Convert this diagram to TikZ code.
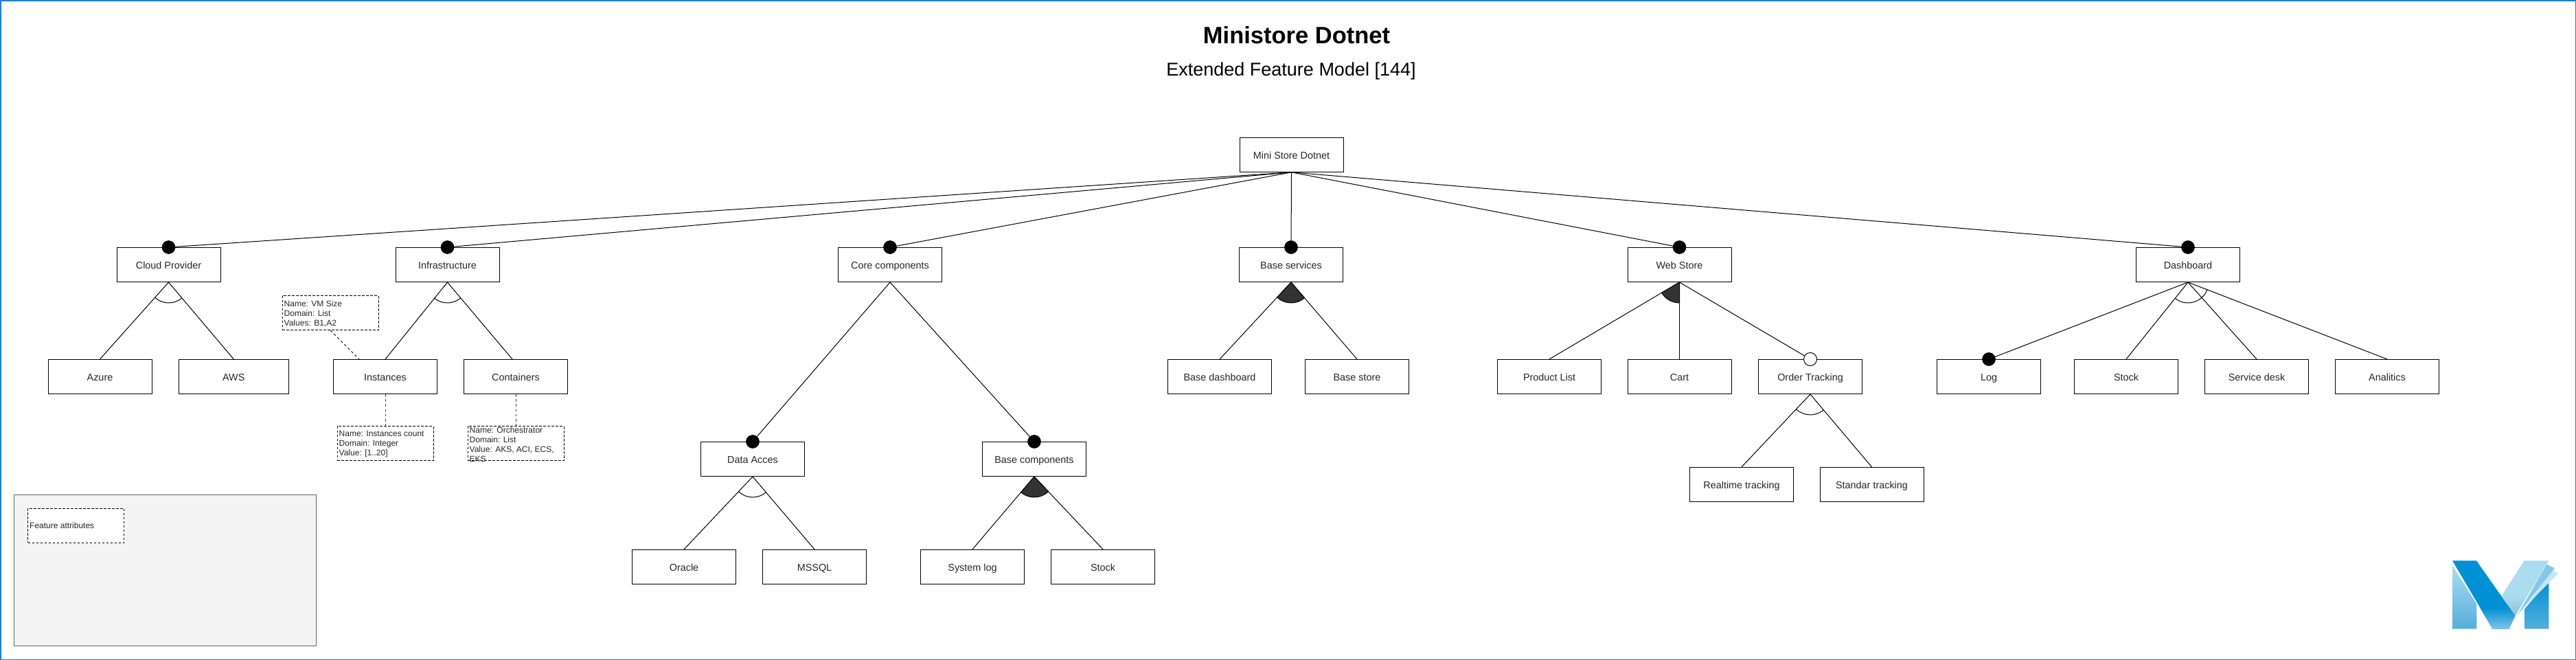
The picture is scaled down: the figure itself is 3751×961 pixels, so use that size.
\documentclass[tikz,border=0pt]{standalone}
\usepackage{fontspec}
\setmainfont{Liberation Sans}
\usetikzlibrary{calc}
\definecolor{framecol}{HTML}{1B7FD8}
\definecolor{txt}{HTML}{262626}
\definecolor{groupfill}{HTML}{333333}
\definecolor{legendfill}{HTML}{F4F4F4}
\definecolor{legendline}{HTML}{666666}
\tikzset{
  x=1pt,y=-1pt,
  feat/.style={draw=black,fill=white,line width=1pt,minimum width=151pt,minimum height=50pt,inner sep=0pt,text=txt,text height=12pt,text depth=0pt,font=\fontsize{14.4}{17}\selectfont},
  attrbox/.style={draw=black,fill=white,dash pattern=on 3.6pt off 2.4pt,line width=1pt,minimum width=140pt,minimum height=50pt,inner sep=0pt},
  attrtext/.style={anchor=west,align=left,inner xsep=3pt,inner ysep=0pt,text=txt,font=\fontsize{12}{14}\selectfont},
  link/.style={draw=black,line width=1pt},
  attrlink/.style={draw=black!75,line width=1pt,dash pattern=on 3.6pt off 3.6pt},
  mand/.style={circle,fill=black,draw=black,line width=0.6pt,minimum size=19pt,inner sep=0pt},
  opt/.style={circle,fill=white,draw=black,line width=1pt,minimum size=19pt,inner sep=0pt},
  grouparc/.style={draw=black,line width=1pt},
  groupsector/.style={draw=black,fill=groupfill,line width=1pt},
}
% white arc across a group: parent, first child point, last child point
\newcommand{\orArc}[3]{\draw[grouparc] let \p0=(#1), \p1=(#2), \p2=(#3),
  \n1={atan2(\y1-\y0,\x1-\x0)}, \n2={atan2(\y2-\y0,\x2-\x0)} in
  ($(\p0)+(\n1:30pt)$) arc[start angle=\n1,end angle=\n2,radius=30pt];}
\newcommand{\xorArc}[3]{\draw[groupsector] let \p0=(#1), \p1=(#2), \p2=(#3),
  \n1={atan2(\y1-\y0,\x1-\x0)}, \n2={atan2(\y2-\y0,\x2-\x0)} in
  (\p0) -- ($(\p0)+(\n1:30pt)$) arc[start angle=\n1,end angle=\n2,radius=30pt] -- cycle;}
\begin{document}
\begin{tikzpicture}
\useasboundingbox (0,0) rectangle (3751,961);
\fill[white] (0,0) rectangle (3751,961);
\draw[framecol,line width=3pt] (0,0) rectangle (3751,961);

% titles
\node[anchor=base,inner sep=0pt,font=\fontsize{34.5}{40}\selectfont\bfseries] (title) at (1888,63) {Ministore Dotnet};
\node[anchor=base,inner sep=0pt,font=\fontsize{27}{32}\selectfont] (subtitle) at (1880,110) {Extended Feature Model [144]};

% legend
\node[draw=legendline,fill=legendfill,line width=1pt,minimum width=440pt,minimum height=220pt,inner sep=0pt] (legend) at (240.5,830.3) {};
\node[attrbox] (legattr) at (110.5,765.3) {};
\node[attrtext] (legattrt) at (legattr.west) {Feature attributes};

% features
\node[feat] (root) at (1880.5,225.3) {Mini Store Dotnet};
\node[feat] (cloud) at (245.5,385.5) {Cloud Provider};
\node[feat] (infra) at (651.5,385.5) {Infrastructure};
\node[feat] (core) at (1296,385.5) {Core components};
\node[feat] (bserv) at (1880,385.5) {Base services};
\node[feat] (web) at (2445.5,385.5) {Web Store};
\node[feat] (dash) at (3186,385.5) {Dashboard};

\node[feat] (azure) at (145.5,548.5) {Azure};
\node[feat,minimum width=160pt] (aws) at (340.3,548.5) {AWS};
\node[feat] (inst) at (561,548.5) {Instances};
\node[feat] (cont) at (751,548.5) {Containers};
\node[feat] (bdash) at (1776,548.5) {Base dashboard};
\node[feat] (bstore) at (1976,548.5) {Base store};
\node[feat] (plist) at (2256,548.5) {Product List};
\node[feat] (cart) at (2445.5,548.5) {Cart};
\node[feat] (order) at (2636,548.5) {Order Tracking};
\node[feat] (log) at (2896,548.5) {Log};
\node[feat] (dstock) at (3096,548.5) {Stock};
\node[feat] (desk) at (3286,548.5) {Service desk};
\node[feat] (ana) at (3476,548.5) {Analitics};

\node[feat] (data) at (1096,668.5) {Data Acces};
\node[feat] (bcomp) at (1506,668.5) {Base components};
\node[feat] (oracle) at (996,825.4) {Oracle};
\node[feat] (mssql) at (1186,825.4) {MSSQL};
\node[feat] (syslog) at (1416,825.4) {System log};
\node[feat] (cstock) at (1606,825.4) {Stock};
\node[feat] (real) at (2536,705.5) {Realtime tracking};
\node[feat] (stand) at (2725.5,705.5) {Standar tracking};

% attributes
\node[attrbox] (avm) at (481,455.5) {};
\node[attrtext,yshift=-1.5pt] (avmt) at (avm.west) {Name: VM Size\\Domain: List\\Values: B1,A2};
\node[attrbox] (ainst) at (561,645.5) {};
\node[attrtext,yshift=-1.5pt] (ainstt) at (ainst.west) {Name: Instances count\\Domain: Integer\\Value: [1..20]};
\node[attrbox] (acont) at (751,645.5) {};
\node[attrtext,yshift=-1.5pt] (acontt) at (acont.west) {Name: Orchestrator\\Domain: List\\Value: AKS, ACI, ECS,\\EKS};

\coordinate (instattach) at ($(inst.north west)!0.25!(inst.north east)$);
\coordinate (contattach) at ($(cont.north)+(-5,0)$);

% mandatory / optional markers
\node[mand] (dcloud) at (cloud.north) {};
\node[mand] (dinfra) at (infra.north) {};
\node[mand] (dcore) at (core.north) {};
\node[mand] (dbserv) at (bserv.north) {};
\node[mand] (dweb) at (web.north) {};
\node[mand] (ddash) at (dash.north) {};
\node[mand] (ddata) at (data.north) {};
\node[mand] (dbcomp) at (bcomp.north) {};
\node[mand] (dlog) at (log.north) {};
\node[opt] (dorder) at (order.north) {};

% connectors
\foreach \t in {dcloud,dinfra,dcore,dbserv,dweb,ddash}
  \draw[link] (root.south) -- (\t);
\draw[link] (cloud.south) -- (azure.north);
\draw[link] (cloud.south) -- (aws.north);
\draw[link] (infra.south) -- (inst.north);
\draw[link] (infra.south) -- (contattach);
\draw[link] (core.south) -- (ddata);
\draw[link] (core.south) -- (dbcomp);
\draw[link] (data.south) -- (oracle.north);
\draw[link] (data.south) -- (mssql.north);
\draw[link] (bcomp.south) -- (syslog.north);
\draw[link] (bcomp.south) -- (cstock.north);
\draw[link] (bserv.south) -- (bdash.north);
\draw[link] (bserv.south) -- (bstore.north);
\draw[link] (web.south) -- (plist.north);
\draw[link] (web.south) -- (cart.north);
\draw[link] (web.south) -- (dorder);
\draw[link] (order.south) -- (real.north);
\draw[link] (order.south) -- (stand.north);
\draw[link] (dash.south) -- (dlog);
\draw[link] (dash.south) -- (dstock.north);
\draw[link] (dash.south) -- (desk.north);
\draw[link] (dash.south) -- (ana.north);
\draw[attrlink,draw=black] (avm.south) -- (instattach);
\draw[attrlink] (inst.south) -- (ainst.north);
\draw[attrlink] (cont.south) -- (acont.north);

% group arcs
\orArc{cloud.south}{azure.north}{aws.north}
\orArc{infra.south}{inst.north}{contattach}
\orArc{data.south}{oracle.north}{mssql.north}
\orArc{order.south}{real.north}{stand.north}
\orArc{dash.south}{dstock.north}{ana.north}
\xorArc{bcomp.south}{syslog.north}{cstock.north}
\xorArc{bserv.south}{bdash.north}{bstore.north}
\xorArc{web.south}{plist.north}{cart.north}

% logo
\begin{scope}[shift={(3540pt,-790pt)},x=0.33333pt,y=-0.33333pt]
  \definecolor{logodark}{HTML}{0090D4}
  \definecolor{logomid}{HTML}{55AEDD}
  \definecolor{logolight}{HTML}{ABDCF0}
  \definecolor{logolow}{HTML}{86C6EA}
  \definecolor{logogrey}{HTML}{8FC0CC}
  \shade[top color=logolight,bottom color=logomid] (93,100) -- (199,268) -- (199,377) -- (93,377) -- cycle;
  \shade[top color=logodark,bottom color=logomid] (514,168) -- (514,377) -- (408,377) -- (408,290) -- cycle;
  \fill[logolight!70!white] (527,117) -- (555,135) -- (390,300) -- (375,318) -- cycle;
  \fill[logolow] (505,95) -- (540,112) -- (440,235) -- (375,320) -- cycle;
  \fill[logolight] (407,79) -- (514,79) -- (366,322) -- (308,232) -- cycle;
  \begin{scope}
    \clip (407,79) -- (514,79) -- (366,322) -- (308,232) -- cycle;
    \shade[top color=logolight,bottom color=logogrey] (300,235) rectangle (420,325);
  \end{scope}
  \fill[logodark] (93,79) -- (198,79) -- (367,320) -- (340,377) -- (268,377) -- cycle;
  \begin{scope}
    \clip (93,79) -- (198,79) -- (367,320) -- (340,377) -- (268,377) -- cycle;
    \shade[top color=logodark,bottom color=logolow] (215,285) rectangle (380,380);
  \end{scope}
\end{scope}
\end{tikzpicture}
\end{document}
